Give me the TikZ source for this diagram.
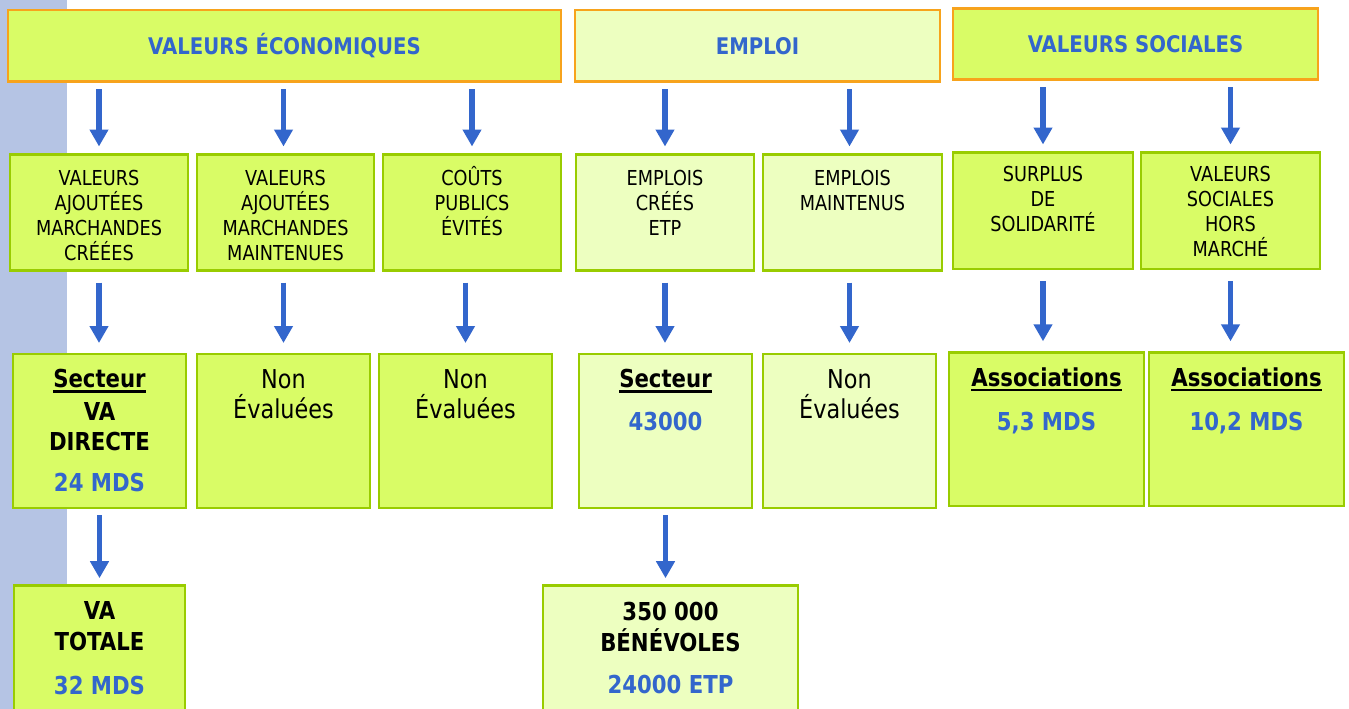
\documentclass[tikz,border=0pt]{standalone}
\usepackage{fontspec}
\setmainfont{DejaVu Sans}[FakeStretch=0.86]
\usetikzlibrary{positioning,arrows.meta}

\definecolor{limefill}{RGB}{217,252,102}
\definecolor{palefill}{RGB}{237,255,192}
\definecolor{leafline}{RGB}{153,204,0}
\definecolor{orangeline}{RGB}{247,163,28}
\definecolor{titleblue}{RGB}{51,102,204}
\definecolor{sidebar}{RGB}{181,196,228}

\newcommand{\souligne}[1]{\setbox0\hbox{#1}\rlap{\rule[-5pt]{\wd0}{2.4pt}}\box0}

\tikzstyle{cadre}=[draw=leafline, line width=2.5pt, fill=limefill, anchor=north west, inner sep=0pt, outer sep=0pt]
\tikzstyle{pale}=[fill=palefill]
\tikzstyle{entete}=[cadre, draw=orangeline, minimum height=71.5pt, font=\bfseries\fontsize{22.9}{27}\selectfont, text=titleblue, text height=16.7pt, text depth=0pt]
\tikzstyle{petit}=[font=\fontsize{20.6}{25}\selectfont, align=center, inner sep=0pt]
\tikzstyle{grand}=[font=\fontsize{26}{30}\selectfont, align=center, inner sep=0pt]
\tikzstyle{gras}=[font=\bfseries\fontsize{24.7}{30}\selectfont, align=center, inner sep=0pt]
\tikzstyle{fleche}=[draw=titleblue, line width=5.5pt, -{Triangle[width=18pt,length=17pt]}]

\begin{document}
\begin{tikzpicture}[x=1pt,y=-1pt]

\useasboundingbox (0,0) rectangle (1349,709);
\fill[white] (0,0) rectangle (1349,709);
\clip (0,0) rectangle (1349,709);
\fill[sidebar] (0,0) rectangle (67,709);

% TITLES

\node[entete, minimum width=553pt] (eco) at (8,10) {VALEURS ÉCONOMIQUES};
\node[entete, pale, minimum width=365pt] (emploi) at (575,10) {EMPLOI};
\node[entete, minimum width=365pt, minimum height=71pt] (social) at (953,8.5) {VALEURS SOCIALES};

% SECOND ROW

\node[cadre, minimum width=178pt, minimum height=116pt] (vamc) at (10,154.5) {};
\node[petit, below=15.5pt of vamc.north] (vamc-t) {VALEURS\\AJOUTÉES\\MARCHANDES\\CRÉÉES};
\node[cadre, minimum width=177pt, minimum height=116pt] (vamm) at (197,154.5) {};
\node[petit, below=15.5pt of vamm.north] (vamm-t) {VALEURS\\AJOUTÉES\\MARCHANDES\\MAINTENUES};
\node[cadre, minimum width=178pt, minimum height=116pt] (cpe) at (383,154.5) {};
\node[petit, below=11.3pt of cpe.north] (cpe-t) {COÛTS\\PUBLICS\\ÉVITÉS};
\node[cadre, pale, minimum width=178pt, minimum height=116pt] (ecrees) at (576,154.5) {};
\node[petit, below=15.5pt of ecrees.north] (ecrees-t) {EMPLOIS\\CRÉÉS\\ETP};
\node[cadre, pale, minimum width=179pt, minimum height=116pt] (emaint) at (763,154.5) {};
\node[petit, below=15.5pt of emaint.north] (emaint-t) {EMPLOIS\\MAINTENUS};
\node[cadre, minimum width=180pt, minimum height=116.5pt] (surplus) at (953,152.5) {};
\node[petit, below=14pt of surplus.north] (surplus-t) {SURPLUS\\DE\\SOLIDARITÉ};
\node[cadre, minimum width=179pt, minimum height=116.5pt] (vshm) at (1141,152.5) {};
\node[petit, below=14pt of vshm.north] (vshm-t) {VALEURS\\SOCIALES\\HORS\\MARCHÉ};

% THIRD ROW

\node[cadre, minimum width=173pt, minimum height=154pt] (vadir) at (13,354) {};
\node[gras, below=15pt of vadir.north] (vadir-t) {\souligne{Secteur}\\[2.7pt]VA\\DIRECTE\\[11pt]{\color{titleblue}24 MDS}};
\node[cadre, minimum width=173pt, minimum height=154pt] (vamm-ne) at (197,354) {};
\node[grand, below=15pt of vamm-ne.north] (vamm-ne-t) {Non\\Évaluées};
\node[cadre, minimum width=173pt, minimum height=154pt] (cpe-ne) at (379,354) {};
\node[grand, below=15pt of cpe-ne.north] (cpe-ne-t) {Non\\Évaluées};
\node[cadre, pale, minimum width=173pt, minimum height=154pt] (secteur) at (579,354) {};
\node[gras, below=15pt of secteur.north] (secteur-t) {\souligne{Secteur}\\[12.7pt]{\color{titleblue}43000}};
\node[cadre, pale, minimum width=173pt, minimum height=154pt] (emaint-ne) at (763,354) {};
\node[grand, below=15pt of emaint-ne.north] (emaint-ne-t) {Non\\Évaluées};
\node[cadre, minimum width=195pt, minimum height=153.5pt] (assoc1) at (949,352.3) {};
\node[gras, below=15pt of assoc1.north] (assoc1-t) {\souligne{Associations}\\[14pt]{\color{titleblue}5,3 MDS}};
\node[cadre, minimum width=195pt, minimum height=153.5pt] (assoc2) at (1149,352.3) {};
\node[gras, below=15pt of assoc2.north] (assoc2-t) {\souligne{Associations}\\[14pt]{\color{titleblue}10,2 MDS}};

% FOURTH ROW

\node[cadre, minimum width=171pt, minimum height=140pt] (vatot) at (14,585.7) {};
\node[gras, below=16pt of vatot.north] (vatot-t) {VA\\[0.7pt]TOTALE\\[14pt]{\color{titleblue}32 MDS}};
\node[cadre, pale, minimum width=255pt, minimum height=140pt] (benev) at (543,585.7) {};
\node[gras, below=16pt of benev.north] (benev-t) {350 000\\[1.7pt]BÉNÉVOLES\\[11.7pt]{\color{titleblue}24000 ETP}};

% ARROWS

\draw[fleche, shorten <=7.5pt, shorten >=8pt] (eco.south -| vamc.north) -- (vamc.north);
\draw[fleche, shorten <=7.5pt, shorten >=8pt] (eco.south -| vamm-ne.north) -- (vamm-ne.north |- vamm.north);
\draw[fleche, shorten <=7.5pt, shorten >=8pt] (eco.south -| cpe.north) -- (cpe.north);
\draw[fleche, shorten <=7.5pt, shorten >=8pt] (emploi.south -| ecrees.north) -- (ecrees.north);
\draw[fleche, shorten <=7.5pt, shorten >=8pt] (emploi.south -| emaint-ne.north) -- (emaint-ne.north |- emaint.north);
\draw[fleche, shorten <=7.5pt, shorten >=8pt] (social.south -| surplus.north) -- (surplus.north);
\draw[fleche, shorten <=7.5pt, shorten >=8pt] (social.south -| vshm.north) -- (vshm.north);

\draw[fleche, shorten <=12pt, shorten >=11pt] (vamc.south) -- (vamc.south |- vadir.north);
\draw[fleche, shorten <=12pt, shorten >=11pt] (vamm-ne.north |- vamm.south) -- (vamm-ne.north);
\draw[fleche, shorten <=12pt, shorten >=11pt] (cpe-ne.north |- cpe.south) -- (cpe-ne.north);
\draw[fleche, shorten <=12pt, shorten >=11pt] (ecrees.south) -- (ecrees.south |- secteur.north);
\draw[fleche, shorten <=12pt, shorten >=11pt] (emaint-ne.north |- emaint.south) -- (emaint-ne.north);
\draw[fleche, shorten <=12pt, shorten >=11pt] (surplus.south) -- (surplus.south |- assoc1.north);
\draw[fleche, shorten <=12pt, shorten >=11pt] (vshm.south) -- (vshm.south |- assoc2.north);

\draw[fleche, shorten <=7pt, shorten >=7.5pt] (vadir.south) -- (vadir.south |- vatot.north);
\draw[fleche, shorten <=7pt, shorten >=7.5pt] (secteur.south) -- (secteur.south |- benev.north);

\end{tikzpicture}
\end{document}
